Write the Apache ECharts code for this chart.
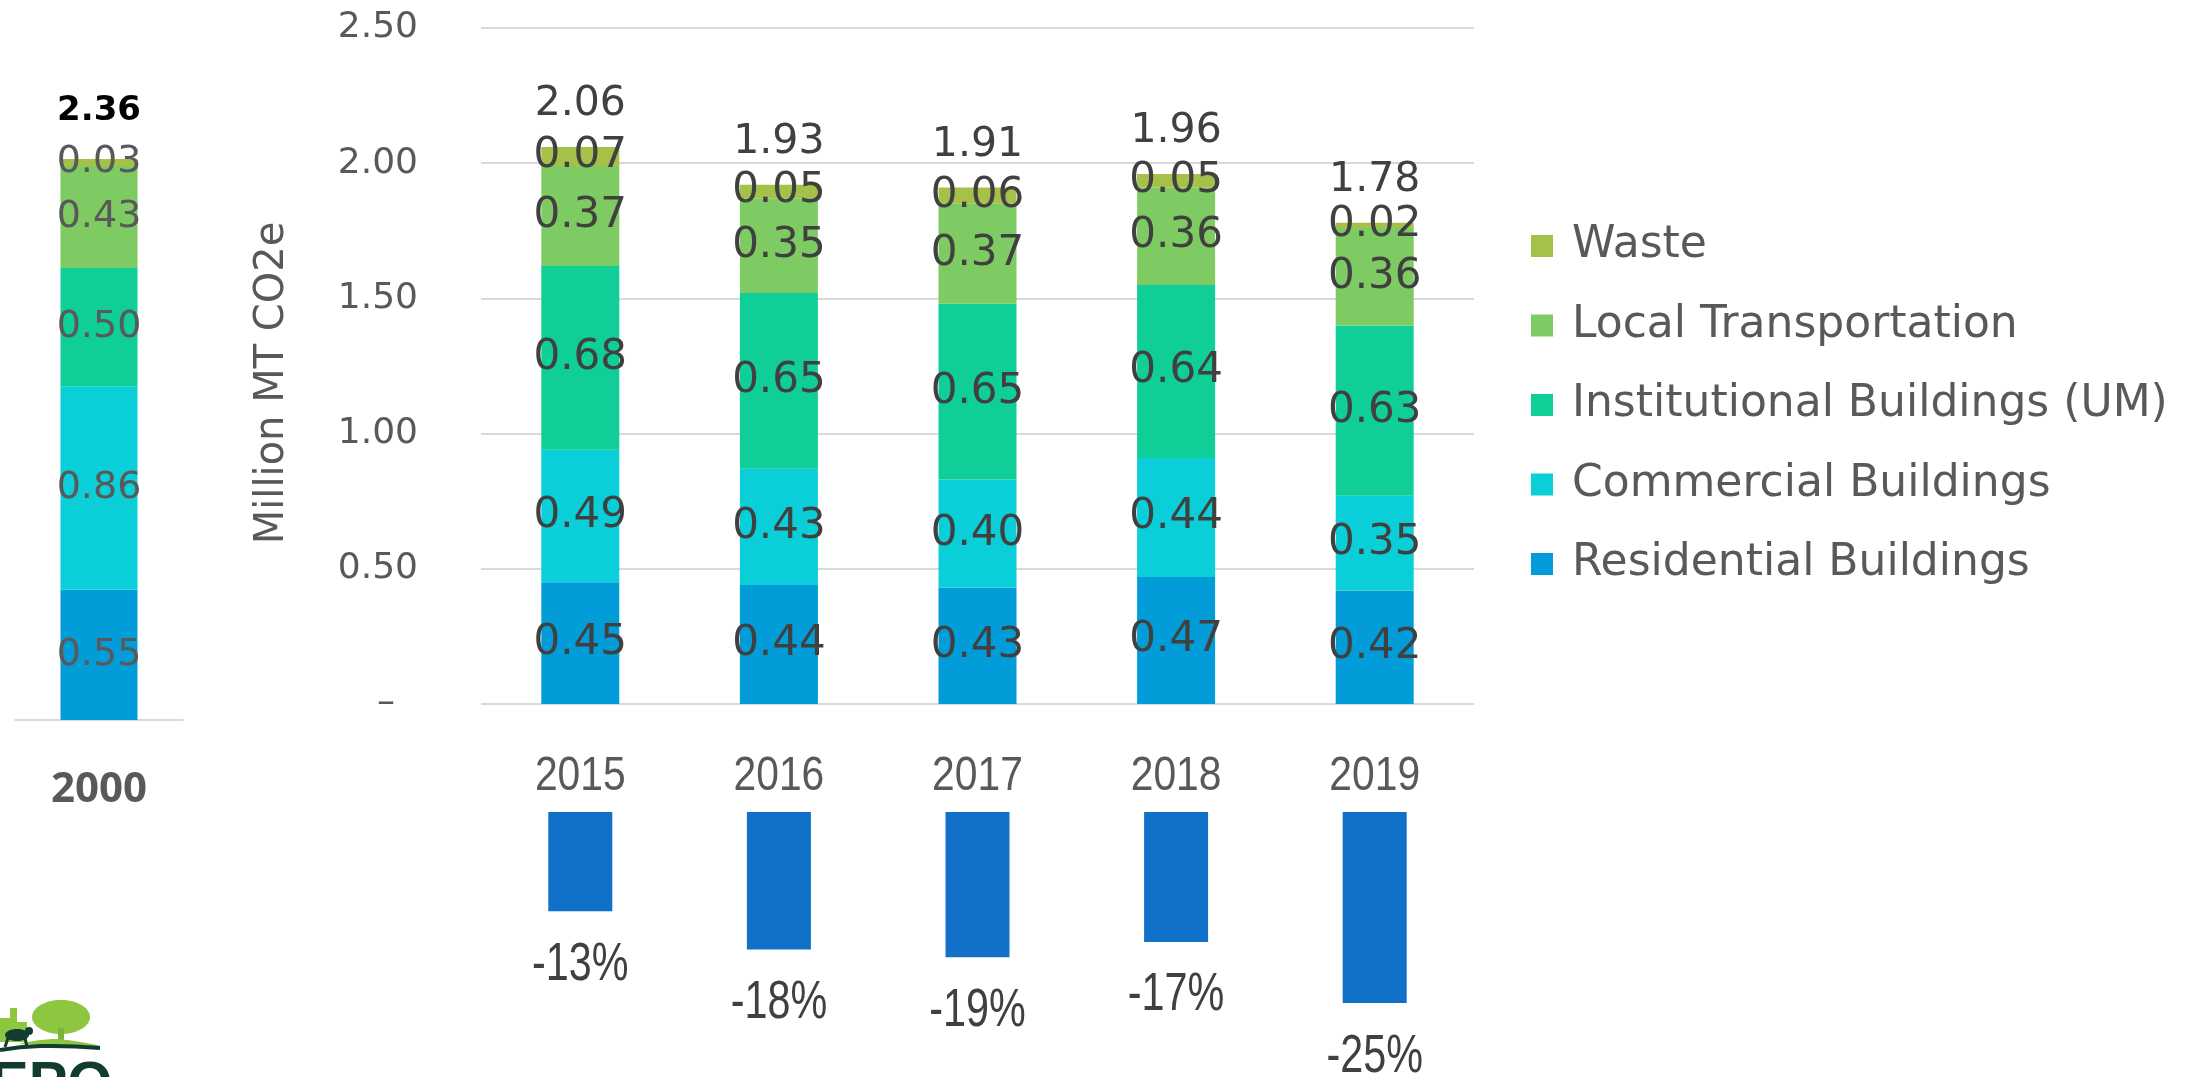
<!DOCTYPE html>
<html>
<head>
<meta charset="utf-8">
<script src="https://cdn.jsdelivr.net/npm/echarts@6/dist/echarts.min.js"></script>
<style>
html,body{margin:0;padding:0;background:#fff;}
#chart{width:2185px;height:1077px;}
</style>
</head>
<body>
<div id="chart"></div>
<script>
// ---- data ----
const years = ['2015', '2016', '2017', '2018', '2019'];
const residential = [0.45, 0.44, 0.43, 0.47, 0.42];
const commercial = [0.49, 0.43, 0.40, 0.44, 0.35];
const institutional = [0.68, 0.65, 0.65, 0.64, 0.63];
const transportation = [0.37, 0.35, 0.37, 0.36, 0.36];
const waste = [0.07, 0.05, 0.06, 0.05, 0.02];
const totals = [2.06, 1.93, 1.91, 1.96, 1.78];

const baseYear = ['2000'];
const residential2000 = [0.55];
const commercial2000 = [0.86];
const institutional2000 = [0.50];
const transportation2000 = [0.43];
const waste2000 = [0.03];
const total2000 = [2.36];

const pctChange = [-13, -18, -19, -17, -25];

const seriesNames = ['Residential Buildings', 'Commercial Buildings', 'Institutional Buildings (UM)', 'Local Transportation', 'Waste'];
const legendOrder = ['Waste', 'Local Transportation', 'Institutional Buildings (UM)', 'Commercial Buildings', 'Residential Buildings'];
const colors = ['#029DD8', '#0BCFD8', '#10CE97', '#7DCB62', '#A6C14A'];

const yMin = 0, yMax = 2.5, yInterval = 0.5;

// ---- chart ----
const chart = echarts.init(document.getElementById('chart'), null, {renderer: 'canvas'});
const mainFont = "'DejaVu Sans', sans-serif";
const narrowFont = "'Liberation Sans', sans-serif";

const mainSets = [residential, commercial, institutional, transportation, waste];
const baseSets = [residential2000, commercial2000, institutional2000, transportation2000, waste2000];

const series = [];
mainSets.forEach((d, i) => {
  series.push({
    name: seriesNames[i], type: 'bar', stack: 'main', xAxisIndex: 0, yAxisIndex: 0,
    data: d, barWidth: 78, itemStyle: {color: colors[i]},
    label: {show: true, position: 'inside', color: '#404040', fontFamily: mainFont, fontSize: 42,
      formatter: p => p.value.toFixed(2)}
  });
});
series.push({
  name: 'Total', type: 'bar', stack: 'main', xAxisIndex: 0, yAxisIndex: 0,
  data: totals.map(() => 0), barWidth: 78, itemStyle: {color: 'transparent'},
  label: {show: true, position: 'top', distance: 22, color: '#404040', fontFamily: mainFont, fontSize: 41,
    formatter: p => totals[p.dataIndex].toFixed(2)}
});
baseSets.forEach((d, i) => {
  series.push({
    name: seriesNames[i], type: 'bar', stack: 'base', xAxisIndex: 1, yAxisIndex: 1,
    data: d, barWidth: 77, itemStyle: {color: colors[i]},
    label: {show: true, position: 'inside', color: '#595959', fontFamily: mainFont, fontSize: 38,
      formatter: p => p.value.toFixed(2)}
  });
});
series.push({
  name: 'Total2000', type: 'bar', stack: 'base', xAxisIndex: 1, yAxisIndex: 1,
  data: total2000.map(() => 0), barWidth: 77, itemStyle: {color: 'transparent'},
  label: {show: true, position: 'top', distance: 31, color: '#000', fontFamily: mainFont, fontWeight: 'bold', fontSize: 34,
    formatter: p => total2000[p.dataIndex].toFixed(2)}
});
series.push({
  name: 'Change', type: 'bar', xAxisIndex: 2, yAxisIndex: 2,
  data: pctChange, barWidth: 64, itemStyle: {color: '#1170C8'}
});
// condensed-looking percentage labels
series.push({
  name: 'ChangeLabels', type: 'custom', xAxisIndex: 2, yAxisIndex: 2,
  data: pctChange.map((v, i) => [i, v]), encode: {x: 0, y: 1}, silent: true,
  renderItem: (params, api) => {
    const p = api.coord([api.value(0), api.value(1)]);
    return {type: 'text', x: p[0], y: p[1] + 54, scaleX: 0.78,
      style: {text: pctChange[params.dataIndex] + '%', fill: '#404040', fontFamily: narrowFont, fontSize: 53,
        align: 'center', verticalAlign: 'middle'}};
  }
});
// condensed-looking year labels under the main bars
series.push({
  name: 'YearLabels', type: 'custom', xAxisIndex: 0, yAxisIndex: 0,
  data: years.map((y, i) => [i, 0]), encode: {x: 0, y: 1}, silent: true,
  renderItem: (params, api) => {
    const p = api.coord([api.value(0), api.value(1)]);
    return {type: 'text', x: p[0], y: p[1] + 73, scaleX: 0.85,
      style: {text: years[params.dataIndex], fill: '#595959', fontFamily: narrowFont, fontSize: 48,
        align: 'center', verticalAlign: 'middle'}};
  }
});

const option = {
  animation: false,
  backgroundColor: '#fff',
  grid: [
    {left: 481, right: 711, top: 28, bottom: 373},
    {left: 15, right: 2002, top: 159, bottom: 357},
    {left: 481, right: 711, top: 812, bottom: 74}
  ],
  legend: {
    orient: 'vertical', left: 1526, top: 213,
    data: legendOrder, icon: 'rect', itemWidth: 22, itemHeight: 22, itemGap: 23.5,
    textStyle: {color: '#595959', fontFamily: mainFont, fontSize: 44, lineHeight: 56, padding: [0, 0, 0, 14]}
  },
  xAxis: [
    {type: 'category', gridIndex: 0, data: years, axisLine: {show: false}, axisTick: {show: false},
      axisLabel: {show: false}},
    {type: 'category', gridIndex: 1, data: baseYear, axisLine: {show: true, lineStyle: {color: '#D9D9D9', width: 2}}, axisTick: {show: false},
      axisLabel: {margin: 49, color: '#595959', fontFamily: "'Open Sans', sans-serif", fontWeight: 'bold', fontSize: 42}},
    {type: 'category', gridIndex: 2, data: years, show: false}
  ],
  yAxis: [
    {type: 'value', gridIndex: 0, min: yMin, max: yMax, interval: yInterval,
      name: 'Million MT CO2e', nameLocation: 'middle', nameGap: 188,
      nameTextStyle: {color: '#595959', fontFamily: mainFont, fontSize: 40, padding: [0, 34, 0, 0]},
      axisLine: {show: false}, axisTick: {show: false},
      splitLine: {lineStyle: {color: '#D9D9D9', width: 2}},
      axisLabel: {margin: 63, color: '#595959', fontFamily: mainFont, fontSize: 36,
        formatter: v => v === 0 ? '\u2013  ' : v.toFixed(2)}},
    {type: 'value', gridIndex: 1, min: 0, max: v => v.max, show: false, splitLine: {show: false}},
    {type: 'value', gridIndex: 2, min: v => v.min, max: 0, show: false, splitLine: {show: false}}
  ],
  graphic: [
    {type: 'rect', shape: {x: 0, y: 1018, width: 10, height: 24}, style: {fill: '#8DC63F'}},
    {type: 'rect', shape: {x: 10, y: 1008, width: 7, height: 34}, style: {fill: '#8DC63F'}},
    {type: 'rect', shape: {x: 17, y: 1022, width: 10, height: 20}, style: {fill: '#8DC63F'}},
    {type: 'ellipse', shape: {cx: 61, cy: 1017, rx: 29, ry: 17}, style: {fill: '#8DC63F'}},
    {type: 'rect', shape: {x: 58, y: 1028, width: 6, height: 14}, style: {fill: '#7AB23A'}},
    {type: 'polygon', shape: {points: [[20, 1044], [55, 1039], [100, 1046], [60, 1045]], smooth: 0.3}, style: {fill: '#8DC63F'}},
    {type: 'ellipse', shape: {cx: 17, cy: 1035, rx: 12, ry: 6}, style: {fill: '#123C30'}},
    {type: 'circle', shape: {cx: 29, cy: 1031, r: 4}, style: {fill: '#123C30'}},
    {type: 'polyline', shape: {points: [[8, 1038], [5, 1047]]}, style: {stroke: '#123C30', lineWidth: 3}},
    {type: 'polyline', shape: {points: [[25, 1038], [27, 1047]]}, style: {stroke: '#123C30', lineWidth: 3}},
    {type: 'polyline', shape: {points: [[0, 1050], [40, 1046], [100, 1048]], smooth: 0.5}, style: {stroke: '#123C30', lineWidth: 4, fill: null}},
    {type: 'text', left: -10, top: 1057, style: {text: 'EPO', fill: '#123C30', font: "bold 58px 'Liberation Sans', sans-serif"}}
  ],
  series: series
};
chart.setOption(option);
</script>
</body>
</html>
